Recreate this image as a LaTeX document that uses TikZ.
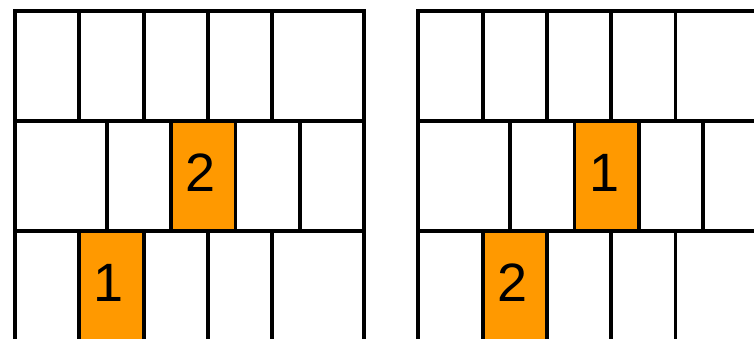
\documentclass[tikz,border=0pt]{standalone}
\usepackage{fontspec}
\setmainfont{Liberation Sans}
\definecolor{cellorange}{RGB}{255,153,0}
\begin{document}
\begin{tikzpicture}[x=1pt,y=-1pt,
  gridline/.style={line width=3.8pt,line join=miter,line cap=rect},
  hot/.style={fill=cellorange},
  digit/.style={font=\fontsize{54}{60}\selectfont,inner sep=0pt,anchor=base}]
\useasboundingbox (0,0) rectangle (754,338);
\clip (0,0) rectangle (754,338);
\def\w{64.3}
\def\ya{11}\def\yb{120.8}\def\yc{230.6}\def\yd{342}
% ---- left grid ----
\begin{scope}
  \fill[hot] (171.1,\yb) rectangle (235.4,\yc);
  \fill[hot] (79.3,\yc) rectangle (143.6,\yd);
  \draw[gridline] (15,\yd) -- (15,\ya) -- (364,\ya) -- (364,\yd);
  \draw[gridline] (15,\yb) -- (364,\yb);
  \draw[gridline] (15,\yc) -- (364,\yc);
  \foreach \x in {79.3,143.6,207.9,272.2}{
    \draw[gridline,line cap=butt] (\x,\ya) -- (\x,\yb);
    \draw[gridline,line cap=butt] (\x,\yc) -- (\x,\yd);}
  \foreach \x in {106.8,171.1,235.4,299.7}{
    \draw[gridline,line cap=butt] (\x,\yb) -- (\x,\yc);}
  \node[digit] (L2) at (200.5,191) {2};
  \node[digit] (L1) at (109,301) {1};
\end{scope}
% ---- right grid ----
\begin{scope}[xshift=403.3pt]
  \fill[hot] (171.1,\yb) rectangle (235.4,\yc);
  \fill[hot] (79.3,\yc) rectangle (143.6,\yd);
  \draw[gridline] (15,\yd) -- (15,\ya) -- (370,\ya);
  \draw[gridline] (15,\yb) -- (370,\yb);
  \draw[gridline] (15,\yc) -- (370,\yc);
  \foreach \x in {79.3,143.6,207.9,272.2}{
    \draw[gridline,line cap=butt] (\x,\ya) -- (\x,\yb);
    \draw[gridline,line cap=butt] (\x,\yc) -- (\x,\yd);}
  \foreach \x in {106.8,171.1,235.4,299.7}{
    \draw[gridline,line cap=butt] (\x,\yb) -- (\x,\yc);}
  \node[digit] (R1) at (201.5,191) {1};
  \node[digit] (R2) at (109.5,301) {2};
\end{scope}
\end{tikzpicture}
\end{document}
